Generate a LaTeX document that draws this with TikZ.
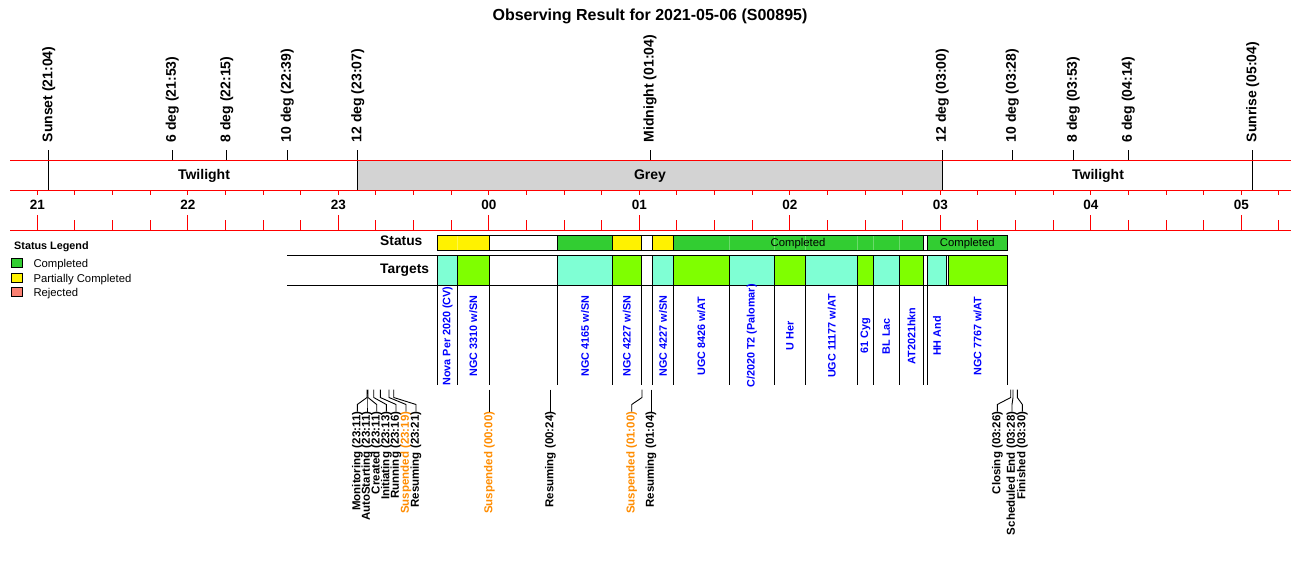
\documentclass[tikz,border=0pt]{standalone}
\usepackage{fontspec}
\setmainfont{Liberation Sans}
\definecolor{stgreen}{HTML}{32CD32}
\definecolor{stgreenl}{HTML}{6BDB6B}
\definecolor{tgaqua}{HTML}{7FFFD4}
\definecolor{tgchart}{HTML}{7FFF00}
\definecolor{bandgrey}{HTML}{D3D3D3}
\definecolor{rejsalmon}{HTML}{FA8072}
\definecolor{suspor}{HTML}{FF8C00}
\definecolor{tgblue}{HTML}{0000FF}
\tikzset{
  redl/.style={draw=red, line width=1pt},
  blk/.style={draw=black, line width=0.9pt},
  boxline/.style={draw=black, line width=1pt},
  faint/.style={draw=stgreenl, line width=0.7pt},
  toplab/.style={rotate=90, anchor=west, inner sep=0pt, font=\fontsize{14}{14}\selectfont\bfseries},
  hourlab/.style={anchor=base, inner sep=0pt, font=\fontsize{13.5}{14}\selectfont\bfseries},
  bandlab/.style={anchor=base, inner sep=0pt, font=\fontsize{14}{14}\selectfont\bfseries},
  rowlab/.style={anchor=base west, inner sep=0pt, font=\fontsize{13.8}{14}\selectfont\bfseries},
  tgtlab/.style={rotate=90, inner sep=0pt, text=tgblue, font=\fontsize{10.8}{11}\selectfont\bfseries},
  evlab/.style={rotate=90, anchor=east, inner sep=0pt, font=\fontsize{11.5}{12}\selectfont\bfseries},
  smalltxt/.style={inner sep=0pt, font=\fontsize{11.3}{12}\selectfont},
}
\begin{document}
\begin{tikzpicture}[x=1pt,y=-1pt]
\useasboundingbox (0,0) rectangle (1300,560);

% title
\node[anchor=base, inner sep=0pt, font=\fontsize{16}{16}\selectfont\bfseries] (title) at (650,20.5) {Observing Result for 2021-05-06 (S00895)};

% grey band
\fill[bandgrey] (357.7,160) rectangle (942.3,190.7);

% top event lines and labels
\foreach \x/\yb/\nm/\lab in {
  48.7/190.7/sunset/Sunset (21:04),
  172.3/160/sixa/6 deg (21:53),
  226.7/160/eighta/8 deg (22:15),
  287.3/160/tena/10 deg (22:39),
  357.7/190.7/twelvea/12 deg (23:07),
  650/160/midn/Midnight (01:04),
  942.3/190.7/twelveb/12 deg (03:00),
  1012.3/160/tenb/10 deg (03:28),
  1073.3/160/eightb/8 deg (03:53),
  1128.3/160/sixb/6 deg (04:14),
  1252.7/190.7/sunrise/Sunrise (05:04)}{
  \coordinate (a\nm) at (\x,150);
  \coordinate (b\nm) at (\x,\yb);
  \draw[blk] (a\nm) -- (b\nm);
  \node[toplab] (l\nm) at (\x,142.5) {\lab};
}

% band labels
\node[bandlab] (tw1) at (204,179) {Twilight};
\node[bandlab] (grey) at (650,179) {Grey};
\node[bandlab] (tw2) at (1098,179) {Twilight};

% red axis lines
\coordinate (rl1) at (10,160);   \coordinate (rr1) at (1290.7,160);
\coordinate (rl2) at (10,190.7); \coordinate (rr2) at (1290.7,190.7);
\coordinate (rl3) at (10,230);   \coordinate (rr3) at (1290.7,230);
\draw[redl] (rl1) -- (rr1);
\draw[redl] (rl2) -- (rr2);
\draw[redl] (rl3) -- (rr3);

% ticks
\foreach \k in {0,...,33}{
  \pgfmathsetmacro{\tx}{37.3+37.625*\k}
  \draw[redl] (\tx,190.7) -- (\tx,195);
  \pgfmathtruncatemacro{\md}{mod(\k,4)}
  \ifnum\md=0
    \draw[redl] (\tx,215) -- (\tx,230);
  \else
    \draw[redl] (\tx,220) -- (\tx,230);
  \fi
}
% hour labels
\foreach \i/\h in {0/21,1/22,2/23,3/00,4/01,5/02,6/03,7/04,8/05}{
  \node[hourlab] (h\i) at ({37.3+150.5*\i},209) {\h};
}

% legend
\node[anchor=base west, inner sep=0pt, font=\fontsize{10.8}{11}\selectfont\bfseries] (legt) at (14,249.3) {Status Legend};
\draw[boxline, fill=stgreen] (11.3,258.3) rectangle (22,267.3);
\draw[boxline, fill=yellow] (11.3,273.3) rectangle (22,282.3);
\draw[boxline, fill=rejsalmon] (11.3,287.7) rectangle (22,296.7);
\node[smalltxt, anchor=base west] (lg1) at (33.3,267.3) {Completed};
\node[smalltxt, anchor=base west] (lg2) at (33.3,282.5) {Partially Completed};
\node[smalltxt, anchor=base west] (lg3) at (33.3,296.7) {Rejected};

% row labels
\node[rowlab] (status) at (380,245.7) {Status};
\node[rowlab] (targets) at (380,273.3) {Targets};

% status boxes
\foreach \xa/\xb/\c in {437.7/489.3/yellow, 489.3/557.7/white, 557.7/612.3/stgreen,
  612.3/641.3/yellow, 641.3/652.7/white, 652.7/673.3/yellow, 673.3/923.7/stgreen,
  923.7/927.3/white, 927.3/1007.3/stgreen}{
  \fill[\c] (\xa,235.7) rectangle (\xb,250.3);
}
\draw[draw=yellow!70!white, line width=0.7pt] (457.5,236.2) -- (457.5,249.8);
\foreach \x in {729.3,774.3,805.7,857.7,873.3,899.3}{
  \draw[faint] (\x,236.2) -- (\x,249.8);
}
\foreach \xa/\xb in {437.7/489.3, 489.3/557.7, 557.7/612.3, 612.3/641.3, 641.3/652.7,
  652.7/673.3, 673.3/923.7, 923.7/927.3, 927.3/1007.3}{
  \draw[boxline] (\xa,235.7) rectangle (\xb,250.3);
}
\node[smalltxt, anchor=base] (st1) at (798,246.3) {Completed};
\node[smalltxt, anchor=base] (st2) at (967.3,246.3) {Completed};

% target boxes
\foreach \xa/\xb/\c in {437.7/457.3/tgaqua, 457.3/489.3/tgchart, 557.7/612.3/tgaqua,
  612.3/641.3/tgchart, 652.7/673.3/tgaqua, 673.3/729.3/tgchart, 729.3/774.3/tgaqua,
  774.3/805.7/tgchart, 805.7/857.7/tgaqua, 857.7/873.3/tgchart, 873.3/899.3/tgaqua,
  899.3/923.7/tgchart, 927.3/946.7/tgaqua, 948.3/1007.3/tgchart}{
  \draw[boxline, fill=\c] (\xa,255.7) rectangle (\xb,285.3);
}
\coordinate (tl1) at (287,255.7); \coordinate (tr1) at (1007.3,255.7);
\coordinate (tl2) at (287,285.3); \coordinate (tr2) at (1007.3,285.3);
\draw[boxline] (tl1) -- (tr1);
\draw[boxline] (tl2) -- (tr2);

% separators below targets
\foreach \x in {437.7,457.3,489.3,557.7,612.3,641.3,652.7,673.3,729.3,774.3,805.7,
  857.7,873.3,899.3,923.7,927.3,1007.3}{
  \draw[blk] (\x,285.3) -- (\x,385);
}

% target labels
\foreach \x/\nm/\lab in {447.5/t1/{Nova Per 2020 (CV)}, 473.3/t2/{NGC 3310 w/SN},
  585/t3/{NGC 4165 w/SN}, 626.8/t4/{NGC 4227 w/SN}, 663/t5/{NGC 4227 w/SN},
  701.3/t6/{UGC 8426 w/AT}, 751.8/t7/{C/2020 T2 (Palomar)}, 790/t8/{U Her},
  831.7/t9/{UGC 11177 w/AT}, 865.5/t10/{61 Cyg}, 886.3/t11/{BL Lac},
  911.5/t12/{AT2021hkn}, 937/t13/{HH And}, 977.5/t14/{NGC 7767 w/AT}}{
  \node[tgtlab] (\nm) at (\x,336) {\lab};
}

% bottom event connectors and labels
\foreach \tx/\fx/\nm/\lab/\col in {
  367/357.3/emon/Monitoring (23:11)/black,
  367/367/eaut/AutoStarting (23:11)/black,
  368/376.7/ecre/Created (23:11)/black,
  373.7/386.3/eini/Initiating (23:13)/black,
  380.3/396/erun/Running (23:16)/black,
  389/406/esua/Suspended (23:19)/suspor,
  393.7/416/eresa/Resuming (23:21)/black,
  489.3/489.3/esub/Suspended (00:00)/suspor,
  550.3/550.3/eresb/Resuming (00:24)/black,
  642/631.7/esuc/Suspended (01:00)/suspor,
  651/651/eresc/Resuming (01:04)/black,
  1010.7/997.3/eclo/Closing (03:26)/black,
  1013/1012/esch/Scheduled End (03:28)/black,
  1017.3/1022.3/efin/Finished (03:30)/black}{
  \coordinate (c\nm) at (\tx,389.5);
  \node[evlab, text=\col] (l\nm) at (\fx,411.5) {\lab};
  \draw[blk] (c\nm) -- (\tx,397.5) -- (\fx,404.5) -- (l\nm.east);
}
\end{tikzpicture}
\end{document}
